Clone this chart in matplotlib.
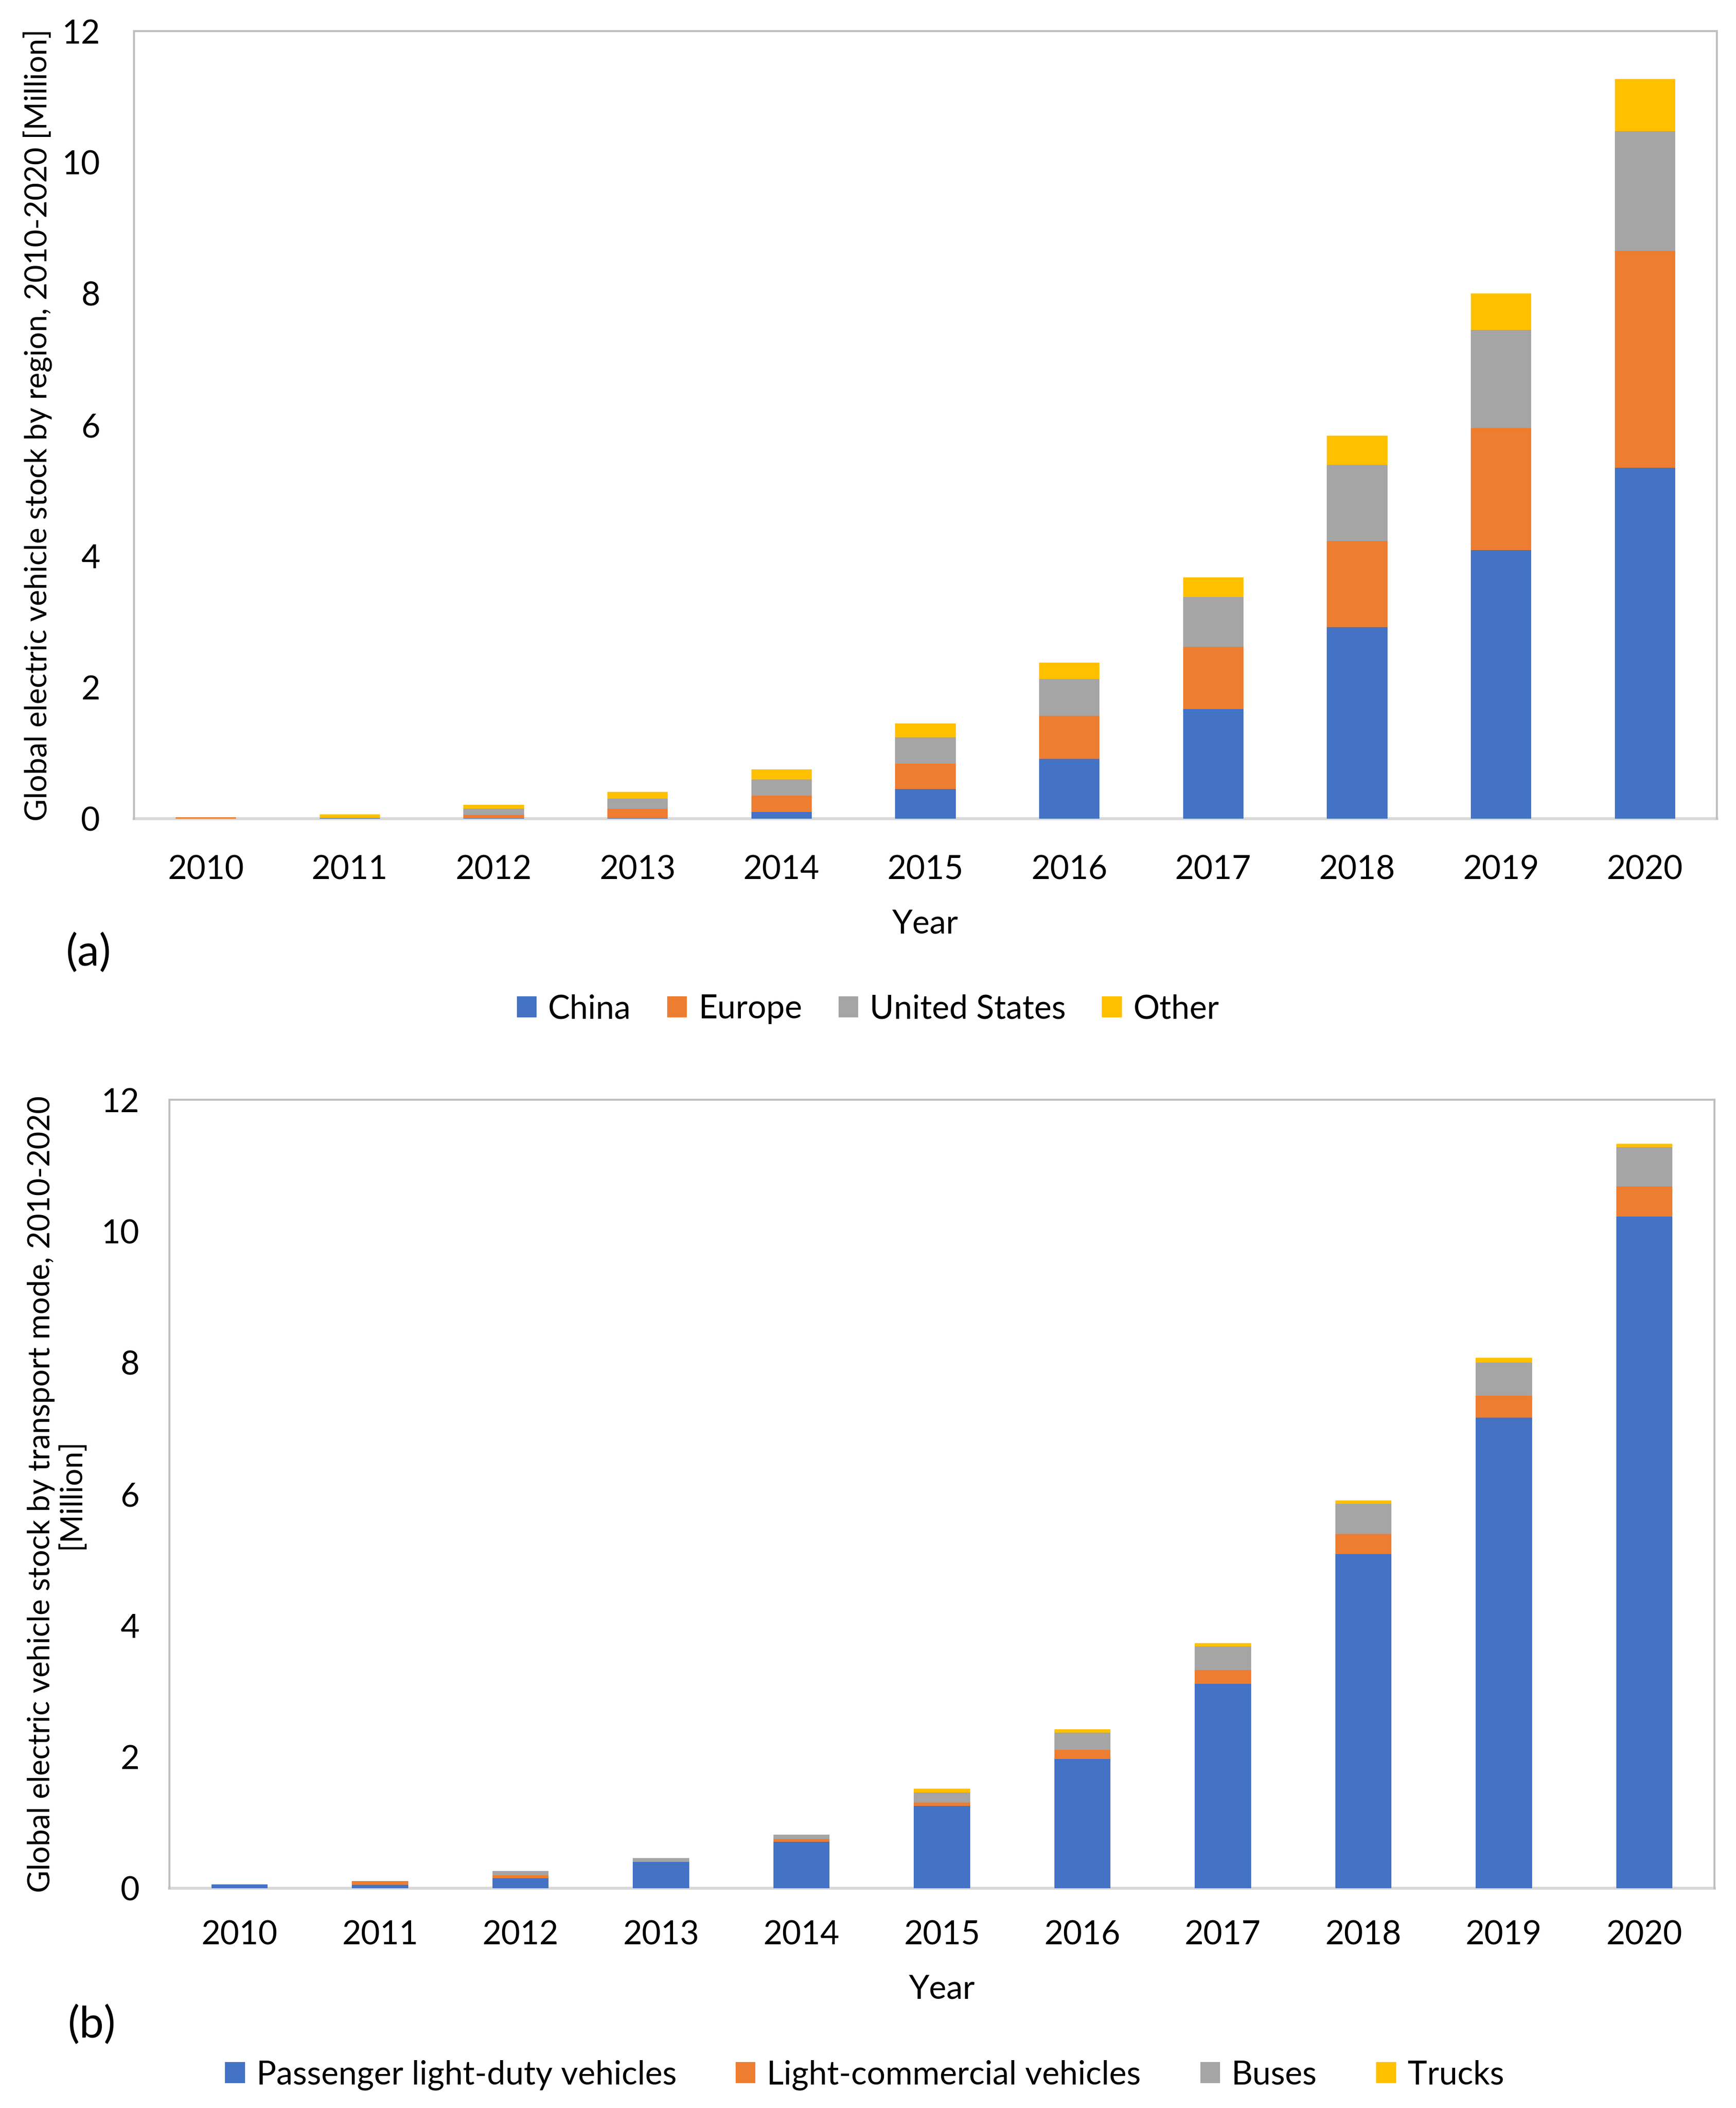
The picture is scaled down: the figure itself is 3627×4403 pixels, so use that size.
import numpy as np
import matplotlib
matplotlib.use("Agg")
import matplotlib.pyplot as plt

plt.rcParams['font.family'] = ['Lato', 'DejaVu Sans']

years = ['2010', '2011', '2012', '2013', '2014', '2015', '2016', '2017', '2018', '2019', '2020']

# (a) stock by region, million
china = [0.001, 0.007, 0.007, 0.007, 0.10, 0.45, 0.91, 1.67, 2.92, 4.09, 5.35]
europe = [0.02, 0.003, 0.05, 0.15, 0.25, 0.39, 0.66, 0.95, 1.31, 1.86, 3.30]
united_states = [0.001, 0.003, 0.10, 0.15, 0.25, 0.40, 0.56, 0.76, 1.16, 1.50, 1.83]
other = [0.001, 0.055, 0.057, 0.10, 0.15, 0.21, 0.25, 0.30, 0.45, 0.55, 0.79]

# (b) stock by transport mode, million
pldv = [0.058, 0.051, 0.153, 0.40, 0.708, 1.255, 1.97, 3.11, 5.09, 7.16, 10.22]
lcv = [0.0, 0.058, 0.044, 0.0, 0.044, 0.051, 0.14, 0.21, 0.30, 0.34, 0.46]
buses = [0.0, 0.0, 0.066, 0.058, 0.066, 0.153, 0.26, 0.36, 0.46, 0.50, 0.60]
trucks = [0.0, 0.0, 0.0, 0.0, 0.0, 0.058, 0.05, 0.05, 0.05, 0.07, 0.05]

colors = ['#4472C4', '#ED7D31', '#A5A5A5', '#FFC000']
fs = 16.5
fs_ylab = 15.3

fig = plt.figure(figsize=(3627 / 300, 4403 / 300), dpi=300)
ax_a = fig.add_axes([0.0772, 0.6116, 0.9118, 0.3736])
ax_b = fig.add_axes([0.0976, 0.1042, 0.8900, 0.3741])


def stacked(ax, series, names, width):
    x = np.arange(len(years))
    bottom = np.zeros(len(years))
    for vals, c, n in zip(series, colors, names):
        ax.bar(x, vals, width, bottom=bottom, color=c, label=n, zorder=3)
        bottom += np.array(vals)
    ax.set_xlim(-0.5, len(years) - 0.5)
    ax.set_ylim(0, 12)
    ax.set_yticks(range(0, 13, 2))
    ax.set_xticks(x)
    ax.set_xticklabels(years)
    ax.tick_params(length=0, labelsize=fs)
    for s in ['left', 'top', 'right']:
        ax.spines[s].set_color('#BFBFBF')
        ax.spines[s].set_linewidth(1.0)
    ax.spines['bottom'].set_color('#D9D9D9')
    ax.spines['bottom'].set_linewidth(1.5)
    ax.spines['bottom'].set_zorder(2)
    ax.set_xlabel('Year', fontsize=fs, labelpad=12)


names_a = ['China', 'Europe', 'United States', 'Other']
stacked(ax_a, [china, europe, united_states, other], names_a, 0.42)
ax_a.tick_params(axis='y', pad=17)
ax_a.tick_params(axis='x', pad=18)
ax_a.set_ylabel('Global electric vehicle stock by region, 2010-2020 [Million]', fontsize=fs_ylab, labelpad=5)

names_b = ['Passenger light-duty vehicles', 'Light-commercial vehicles', 'Buses', 'Trucks']
stacked(ax_b, [pldv, lcv, buses, trucks], names_b, 0.40)
ax_b.tick_params(axis='y', pad=15)
ax_b.tick_params(axis='x', pad=16)
ax_b.set_ylabel('Global electric vehicle stock by transport mode, 2010-2020\n[Million]',
                fontsize=fs_ylab, labelpad=8, linespacing=1.1)

fig.text(0.051, 1 - 1991 / 4403, '(a)', fontsize=22, ha='center', va='center')
fig.text(0.053, 1 - 4230 / 4403, '(b)', fontsize=22, ha='center', va='center')

leg_kw = dict(ncol=4, frameon=False, fontsize=fs, handlelength=0.6, handleheight=0.6,
              handletextpad=0.35, loc='center')
fig.legend(*ax_a.get_legend_handles_labels(), bbox_to_anchor=(0.500, 1 - 2108 / 4403),
           columnspacing=1.1, **leg_kw)
fig.legend(*ax_b.get_legend_handles_labels(), bbox_to_anchor=(0.498, 1 - 4334 / 4403),
           columnspacing=1.8, **leg_kw)

fig.savefig('out.png', dpi=300)
